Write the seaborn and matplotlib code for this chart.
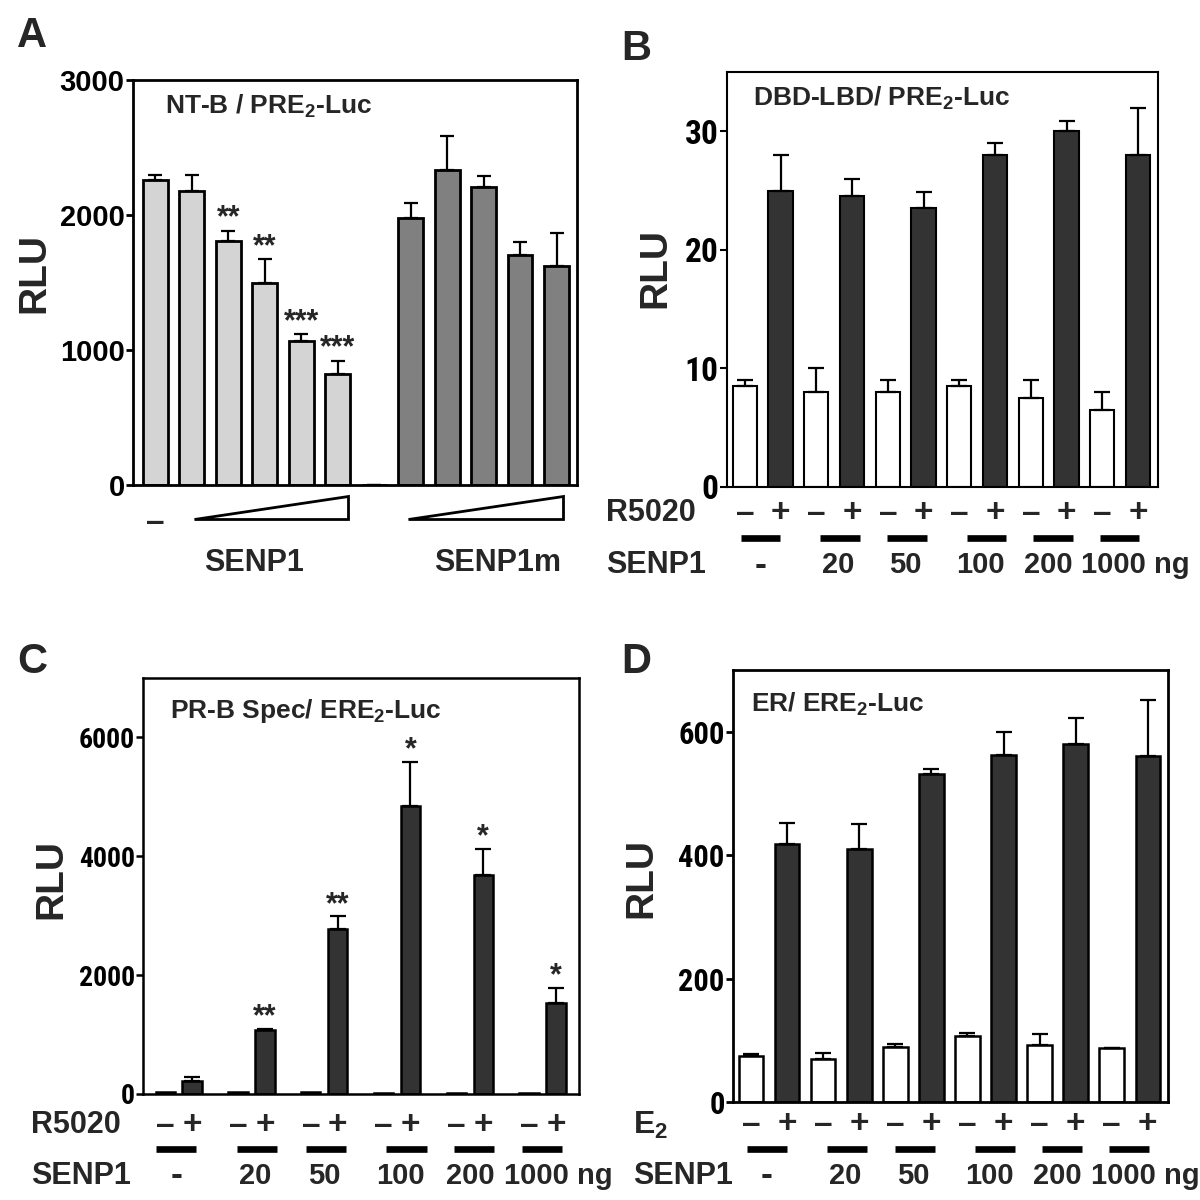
import numpy as np
import pandas as pd
import matplotlib
matplotlib.use("Agg")
import matplotlib.pyplot as plt
import matplotlib.transforms as mtrans
from matplotlib.patches import Polygon
from matplotlib import font_manager as fm
import seaborn as sns

# ---------------- data ----------------
# Panel A
a_slots = [str(i) for i in range(12)]
a_groups = ["SENP1"] * 6 + ["gap"] + ["SENP1m"] * 5
a_values = [2260, 2180, 1805, 1495, 1065, 822, 0, 1975, 2336, 2205, 1700, 1623]
a_err = [38, 113, 75, 177, 50, 100, 0, 115, 250, 85, 97, 240]
a_stars = ["", "", "**", "**", "***", "***", "", "", "", "", "", ""]

# Panels B-D
doses = ["-", "20", "50", "100", "200", "1000 ng"]

b_minus = [8.5, 8.0, 8.0, 8.5, 7.5, 6.5]
b_minus_err = [0.5, 2.0, 1.0, 0.5, 1.5, 1.5]
b_plus = [25.0, 24.5, 23.5, 28.0, 30.0, 28.0]
b_plus_err = [3.0, 1.5, 1.4, 1.0, 0.9, 4.0]

c_minus = [35, 35, 30, 25, 25, 20]
c_minus_err = [0, 0, 0, 0, 0, 0]
c_plus = [226, 1080, 2780, 4848, 3678, 1532]
c_plus_err = [52, 20, 213, 743, 452, 258]
c_stars = ["", "**", "**", "*", "*", "*"]

d_minus = [74.6, 70.3, 88.9, 107, 92.6, 87.7]
d_minus_err = [3.1, 9.3, 4.4, 5.0, 18.1, 0.6]
d_plus = [417.8, 409.7, 531, 562, 580.7, 560.8]
d_plus_err = [33.6, 41.0, 8.6, 38.0, 41.1, 90.2]

# ---------------- style ----------------
sns.set_style("ticks")
plt.rcParams["font.family"] = ["Liberation Sans", "DejaVu Sans"]
plt.rcParams["font.weight"] = "bold"
plt.rcParams["mathtext.fontset"] = "custom"
plt.rcParams["mathtext.rm"] = "Liberation Sans:bold"
plt.rcParams["mathtext.it"] = "Liberation Sans:bold"
plt.rcParams["mathtext.bf"] = "Liberation Sans:bold"

avail = {f.name for f in fm.fontManager.ttflist}
narrow = next((n for n in ["Liberation Sans Narrow", "Arial Narrow", "Roboto Condensed",
                           "Open Sans Condensed"] if n in avail), None)
if narrow:
    narrow_fp = dict(family=narrow, weight="bold")
else:
    narrow_fp = dict(family="DejaVu Sans", weight="bold", stretch="condensed")

fig = plt.figure(figsize=(12, 12), dpi=100)
W = H = 1200.0


def add_ax(left, top, right, bottom):
    return fig.add_axes([left / W, 1 - bottom / H, (right - left) / W, (bottom - top) / H])


def frame(ax, lw):
    for s in ax.spines.values():
        s.set_visible(True)
        s.set_linewidth(lw)
        s.set_color("black")
    ax.tick_params(axis="y", direction="out", length=5, width=lw, pad=1, colors="black")
    ax.tick_params(axis="x", length=0)
    ax.set_xticks([])
    ax.set_xlabel("")
    ax.set_ylabel("")


def ftext(x, y, s, **kw):
    kw.setdefault("fontweight", "bold")
    fig.text(x / W, 1 - y / H, s, **kw)


# ---------------- Panel A ----------------
axA = add_ax(133, 80, 577, 485)
dfA = pd.DataFrame({"slot": a_slots, "RLU": a_values, "group": a_groups})
sns.barplot(data=dfA, x="slot", y="RLU", hue="group", order=a_slots,
            palette={"SENP1": "#d4d4d4", "gap": "#d4d4d4", "SENP1m": "#808080"},
            dodge=False, width=0.68, edgecolor="black", linewidth=2.0,
            errorbar=None, legend=False, ax=axA)
xa = np.arange(len(a_values))
axA.errorbar(xa, a_values, yerr=[np.zeros(len(a_err)), a_err], fmt="none",
             ecolor="black", elinewidth=1.6, capsize=5, capthick=1.6, zorder=1)
for x, v, e, s in zip(xa, a_values, a_err, a_stars):
    if s:
        axA.annotate(s, (x, v + e), xytext=(0, 9), textcoords="offset points",
                     ha="center", va="center", fontsize=22, fontweight="bold")
axA.set_ylim(0, 3000)
axA.set_xlim(-0.61, 11.56)
frame(axA, 2.0)
axA.set_yticks([0, 1000, 2000, 3000])
axA.set_yticklabels(["0", "1000", "2000", "3000"], fontsize=21, fontweight="bold")
axA.text(0.072, 0.935, "NT-B / PRE$_2$-Luc", transform=axA.transAxes,
         fontsize=19, fontweight="bold", va="center", ha="left")
trA = mtrans.blended_transform_factory(axA.transData, axA.transAxes)
axA.text(0, -0.092, "–", transform=trA, ha="center", va="center", fontsize=24,
         fontweight="bold", clip_on=False)
for x0, x1 in [(1.05, 5.28), (6.92, 11.18)]:
    axA.add_patch(Polygon([(x0, -0.083), (x1, -0.083), (x1, -0.027)], closed=True,
                          transform=trA, facecolor="white", edgecolor="black",
                          linewidth=2.0, clip_on=False))
ftext(254, 563, "SENP1", ha="center", va="center", fontsize=22)
ftext(498, 563, "SENP1m", ha="center", va="center", fontsize=22)


# ---------------- Panels B-D helper ----------------
def pair_panel(ax, minus, minus_err, plus, plus_err, width, gap, edge_lw):
    df = pd.DataFrame({"dose": doses * 2,
                       "treat": ["-"] * len(doses) + ["+"] * len(doses),
                       "RLU": list(minus) + list(plus)})
    sns.barplot(data=df, x="dose", y="RLU", hue="treat", order=doses, hue_order=["-", "+"],
                palette={"-": "white", "+": "#333333"}, width=width, gap=gap,
                edgecolor="black", linewidth=edge_lw, errorbar=None, legend=False, ax=ax)
    off = width / 4
    xs = np.arange(len(doses))
    for sign, vals, errs in [(-1, minus, minus_err), (1, plus, plus_err)]:
        errs = np.asarray(errs, float)
        m = errs > 0
        ax.errorbar(xs[m] + sign * off, np.asarray(vals)[m], yerr=[np.zeros(m.sum()), errs[m]],
                    fmt="none", ecolor="black", elinewidth=1.6, capsize=5.5, capthick=1.6,
                    zorder=1)
    return off


line_pos = [-0.03, 1.08, 2.02, 3.13, 4.06, 4.99]
label_pos = [-0.03, 1.05, 2.0, 3.05, 4.0, 5.21]


def under_rows(ax, off, y_sign, y_line, y_lab):
    tr = mtrans.blended_transform_factory(ax.transData, ax.transAxes)
    for i in range(len(doses)):
        ax.text(i - off, y_sign, "–", transform=tr, ha="center", va="center",
                fontsize=24, fontweight="bold", clip_on=False)
        ax.text(i + off, y_sign, "+", transform=tr, ha="center", va="center",
                fontsize=24, fontweight="bold", clip_on=False)
        c = line_pos[i]
        ax.plot([c - 0.275, c + 0.275], [y_line, y_line], transform=tr, color="black",
                linewidth=4.8, solid_capstyle="butt", clip_on=False)
        lab = doses[i]
        ax.text(label_pos[i], y_lab, lab, transform=tr, ha="center", va="center",
                fontsize=21 if lab != "-" else 26, fontweight="bold", clip_on=False)


# ---------------- Panel B ----------------
axB = add_ax(727, 72, 1158, 487)
offB = pair_panel(axB, b_minus, b_minus_err, b_plus, b_plus_err, 1.0, 0.32, 1.5)
axB.set_ylim(0, 35)
axB.set_xlim(-0.5, 5.53)
frame(axB, 1.5)
axB.set_yticks([0, 10, 20, 30])
axB.set_yticklabels(["0", "10", "20", "30"], fontsize=24, **narrow_fp)
axB.text(0.06, 0.937, "DBD-LBD/ PRE$_2$-Luc", transform=axB.transAxes,
         fontsize=19, fontweight="bold", va="center", ha="left")
under_rows(axB, offB, -0.063, -0.123, -0.188)
ftext(606, 513, "R5020", ha="left", va="center", fontsize=22)
ftext(606, 565, "SENP1", ha="left", va="center", fontsize=22)

# ---------------- Panel C ----------------
axC = add_ax(143, 678, 579, 1094)
offC = pair_panel(axC, c_minus, c_minus_err, c_plus, c_plus_err, 0.74, 0.284, 1.8)
for x, v, e, s in zip(np.arange(len(doses)) + offC, c_plus, c_plus_err, c_stars):
    if s:
        axC.annotate(s, (x, v + e), xytext=(0, 8), textcoords="offset points",
                     ha="center", va="center", fontsize=22, fontweight="bold")
axC.set_ylim(0, 7000)
axC.set_xlim(-0.49, 5.5)
frame(axC, 1.8)
axC.set_yticks([0, 2000, 4000, 6000])
axC.set_yticklabels(["0", "2000", "4000", "6000"], fontsize=20, **narrow_fp)
axC.text(0.062, 0.92, "PR-B Spec/ ERE$_2$-Luc", transform=axC.transAxes,
         fontsize=19, fontweight="bold", va="center", ha="left")
under_rows(axC, offC, -0.075, -0.132, -0.197)
ftext(31, 1125, "R5020", ha="left", va="center", fontsize=22)
ftext(31, 1176, "SENP1", ha="left", va="center", fontsize=22)

# ---------------- Panel D ----------------
axD = add_ax(733, 670, 1168, 1102)
offD = pair_panel(axD, d_minus, d_minus_err, d_plus, d_plus_err, 1.0, 0.32, 1.8)
axD.set_ylim(0, 700)
axD.set_xlim(-0.5, 5.53)
frame(axD, 2.0)
axD.set_yticks([0, 200, 400, 600])
axD.set_yticklabels(["0", "200", "400", "600"], fontsize=22, **narrow_fp)
axD.text(0.042, 0.92, "ER/ ERE$_2$-Luc", transform=axD.transAxes,
         fontsize=19, fontweight="bold", va="center", ha="left")
under_rows(axD, offD, -0.053, -0.109, -0.171)
ftext(633, 1125, "E$_2$", ha="left", va="center", fontsize=23)
ftext(633, 1176, "SENP1", ha="left", va="center", fontsize=22)

# ---------------- axis labels & panel letters ----------------
for (x, y) in [(34, 273), (655, 268), (51, 879), (641, 878)]:
    ftext(x, y, "RLU", rotation=90, ha="center", va="center", fontsize=28)
for (x, y, s) in [(17, 36, "A"), (621, 49, "B"), (17, 662, "C"), (621, 662, "D")]:
    ftext(x, y, s, ha="left", va="center", fontsize=30)

fig.savefig("out.png", dpi=100)
